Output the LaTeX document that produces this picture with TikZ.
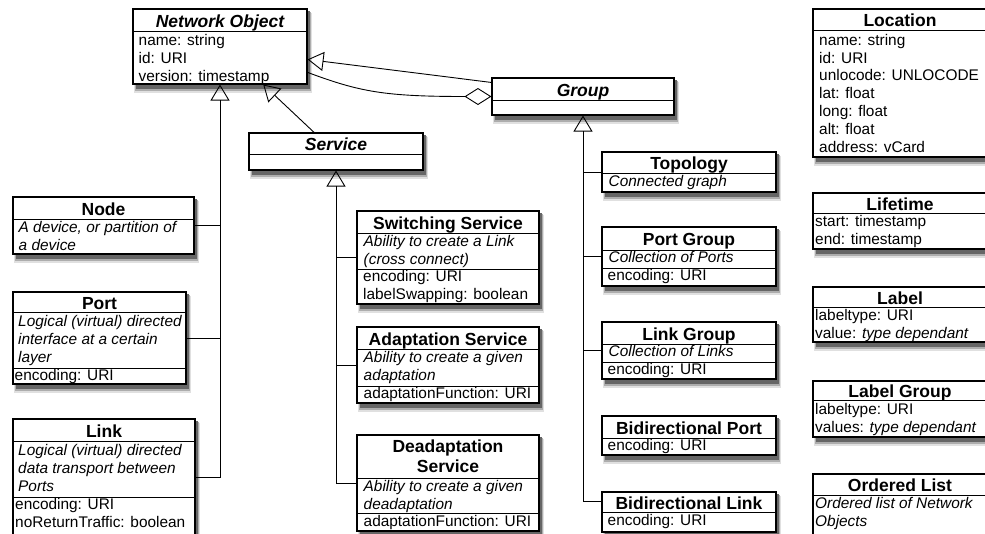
\documentclass[tikz,border=0pt]{standalone}
\usepackage{fontspec}
\setmainfont{Liberation Sans}
\usetikzlibrary{fit,arrows.meta,calc}
\tikzset{
  classbox/.style={draw=black, fill=white, line width=1.1pt, inner sep=0pt},
  shadeA/.style={fill=black!12},
  shadeB/.style={fill=black!32},
  shadeC/.style={fill=black!60},
  sepline/.style={line width=1pt},
  ttlstyle/.style={font=\fontsize{17.5}{20}\selectfont\bfseries, anchor=base, inner sep=0pt},
  attrstyle/.style={font=\fontsize{15.4}{17.8}\selectfont, anchor=north west, align=left, inner sep=0pt},
  conn/.style={line width=0.9pt},
  gen/.style={line width=0.9pt, -{Triangle[open, length=16pt, width=19pt, line width=0.9pt]}},
  agg/.style={line width=0.9pt, -{Diamond[open, length=27pt, width=17pt, line width=0.9pt]}}
}
% box with layered (blur-like) drop shadow: name, x1, y1, x2, y2
\newcommand\klass[5]{%
  \fill[shadeA] (#2+0.5,#3+4) rectangle (#4+5,#5+8.5);
  \fill[shadeB] (#2+1.5,#3+3) rectangle (#4+3.8,#5+6.5);
  \fill[shadeC] (#2+2.5,#3+2) rectangle (#4+2.6,#5+4.5);
  \node[classbox, fit={(#2,#3) (#4,#5)}] (#1) {};}
% separator: x1, x2, y
\newcommand\sepl[3]{\draw[sepline] (#1,#3) -- (#2,#3);}
% title: x1, x2, y1, sep, text
\newcommand\ttl[5]{\node[ttlstyle] at ({(#1+#2)/2},{(#3+#4)/2+7}) {#5};}
% attributes: indent, x1, first baseline, text   (strut height = 0.7*17.8 = 12.46)
\newcommand\attrs[4]{\node[attrstyle] at (#2+#1,#3-12.46) {\strut #4};}
\begin{document}
\begin{tikzpicture}[x=1pt,y=-1pt]
\useasboundingbox (0,0) rectangle (985,533);

% ---------- Network Object ----------
\klass{NO}{133}{9}{307}{84}
\sepl{133}{307}{31}
\ttl{133}{307}{9}{31}{\itshape Network Object}
\attrs{5.5}{133}{45.5}{name: string\\id: URI\\version: timestamp}

% ---------- Service ----------
\klass{Service}{249}{133}{423}{170}
\sepl{249}{423}{154}
\ttl{249}{423}{133}{154}{\itshape Service}

% ---------- Group ----------
\klass{Group}{492}{78}{674}{115}
\sepl{492}{674}{100}
\ttl{492}{674}{78}{100}{\itshape Group}

% ---------- Left column ----------
\klass{Node}{13}{197}{194}{254}
\sepl{13}{194}{219}
\ttl{13}{194}{197}{219}{Node}
\attrs{5.5}{13}{232}{\itshape A device, or partition of\\\itshape a device}

\klass{Port}{13}{292}{186}{384}
\sepl{13}{186}{312}
\sepl{13}{186}{368}
\ttl{13}{186}{292}{312}{Port}
\attrs{5}{13}{326.5}{\itshape Logical (virtual) directed\\\itshape interface at a certain\\\itshape layer}
\attrs{1.5}{13}{380}{encoding: URI}

\klass{Link}{13}{419}{195}{536}
\sepl{13}{195}{441}
\sepl{13}{195}{497}
\ttl{13}{195}{419}{441}{Link}
\attrs{5}{13}{455.5}{\itshape Logical (virtual) directed\\\itshape data transport between\\\itshape Ports}
\attrs{2}{13}{509}{encoding: URI\\noReturnTraffic: boolean}

% ---------- Middle column ----------
\klass{Switch}{357}{211}{539}{304}
\sepl{357}{539}{233}
\sepl{357}{539}{269}
\ttl{357}{539}{211}{233}{Switching Service}
\attrs{6.5}{357}{246}{\itshape Ability to create a Link\\\itshape (cross connect)}
\attrs{6}{357}{281.5}{encoding: URI\\labelSwapping: boolean}

\klass{Adapt}{357}{327}{539}{403}
\sepl{357}{539}{349}
\sepl{357}{539}{386}
\ttl{357}{539}{327}{349}{Adaptation Service}
\attrs{6.5}{357}{362}{\itshape Ability to create a given\\\itshape adaptation}
\attrs{6.5}{357}{398.5}{adaptationFunction: URI}

\klass{Deadapt}{357}{435}{539}{531}
\sepl{357}{539}{478}
\sepl{357}{539}{513}
\node[ttlstyle, anchor=north, align=center] at (448,438) {\strut Deadaptation\\Service};
\attrs{6.5}{357}{491.5}{\itshape Ability to create a given\\\itshape deadaptation}
\attrs{6.5}{357}{526.5}{adaptationFunction: URI}

% ---------- Group column ----------
\klass{Topo}{602}{152}{776}{192}
\sepl{602}{776}{173}
\ttl{602}{776}{152}{173}{Topology}
\attrs{6.5}{602}{186}{\itshape Connected graph}

\klass{PG}{602}{227}{776}{286}
\sepl{602}{776}{250}
\sepl{602}{776}{268}
\ttl{602}{776}{227}{250}{Port Group}
\attrs{6.5}{602}{262.5}{\itshape Collection of Ports}
\attrs{5.5}{602}{280}{encoding: URI}

\klass{LG}{602}{322}{776}{379}
\sepl{602}{776}{344}
\sepl{602}{776}{362}
\ttl{602}{776}{322}{344}{Link Group}
\attrs{6.5}{602}{356.5}{\itshape Collection of Links}
\attrs{5.5}{602}{374}{encoding: URI}

\klass{BP}{602}{416}{776}{455}
\sepl{602}{776}{438}
\ttl{602}{776}{416}{438}{Bidirectional Port}
\attrs{5.5}{602}{450.5}{encoding: URI}

\klass{BL}{602}{492}{776}{532}
\sepl{602}{776}{512}
\ttl{602}{776}{492}{512}{Bidirectional Link}
\attrs{5.5}{602}{525.5}{encoding: URI}

% ---------- Right column ----------
\klass{Loc}{813}{9}{987}{157}
\sepl{813}{987}{30}
\ttl{813}{987}{9}{30}{Location}
\attrs{6}{813}{45}{name: string\\id: URI\\unlocode: UNLOCODE\\lat: float\\long: float\\alt: float\\address: vCard}

\klass{Life}{813}{193}{987}{249}
\sepl{813}{987}{213}
\ttl{813}{987}{193}{213}{Lifetime}
\attrs{2}{813}{226}{start: timestamp\\end: timestamp}

\klass{Label}{813}{287}{987}{342}
\sepl{813}{987}{307}
\ttl{813}{987}{287}{307}{Label}
\attrs{2}{813}{320.5}{labeltype: URI\\value: \textit{type dependant}}

\klass{LabG}{813}{381}{987}{437}
\sepl{813}{987}{400}
\ttl{813}{987}{381}{400}{Label Group}
\attrs{2}{813}{414.5}{labeltype: URI\\values: \textit{type dependant}}

\klass{OL}{813}{474}{987}{540}
\sepl{813}{987}{495}
\ttl{813}{987}{474}{495}{Ordered List}
\attrs{2}{813}{508.5}{\itshape Ordered list of Network\\\itshape Objects}

% ---------- Connectors ----------
% Network Object subclasses
\draw[gen] (Link.east) -| (NO.south);
\draw[conn] (Node.east) -- (Node.east -| NO.south);
\draw[conn] (Port.east) -- (Port.east -| NO.south);
% Service -> Network Object
\draw[gen] ($(Service.north west)!0.375!(Service.north east)$) -- ($(NO.south west)!0.747!(NO.south east)$);
% Service subclasses
\draw[gen] (Deadapt.west) -| (Service.south);
\draw[conn] (Switch.west) -- (Switch.west -| Service.south);
\draw[conn] (Adapt.west) -- (Adapt.west -| Service.south);
% Group -> Network Object
\draw[gen] ($(Group.north west)+(0,5)$) -- ($(NO.north east)!0.67!(NO.south east)$);
% Aggregation
\draw[agg] ($(NO.north east)!0.84!(NO.south east)$) .. controls (360,92) and (385,96.5) .. (Group.west);
% Group subclasses
\draw[gen] ($(BL.north west)+(0,10)$) -| (Group.south);
\draw[conn] (Topo.west) -- (Topo.west -| Group.south);
\draw[conn] (PG.west) -- (PG.west -| Group.south);
\draw[conn] (LG.west) -- (LG.west -| Group.south);
\draw[conn] ($(BP.north west)+(0,16)$) -- ($(BP.north west)+(0,16)$ -| Group.south);
\end{tikzpicture}
\end{document}
